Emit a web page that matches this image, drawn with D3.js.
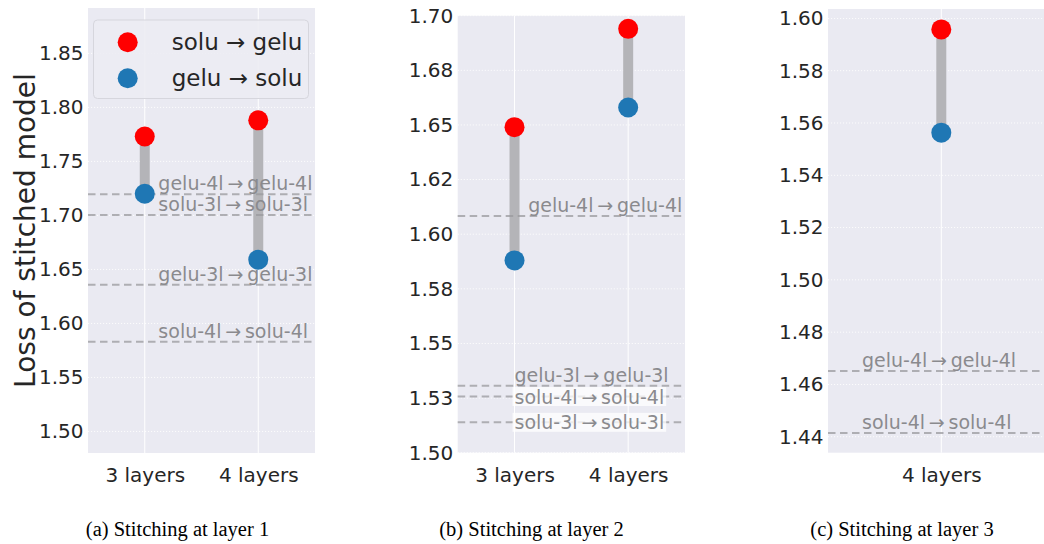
<!DOCTYPE html>
<html><head><meta charset="utf-8">
<script src="https://cdn.jsdelivr.net/npm/d3@7"></script>
<style>
html,body{margin:0;padding:0;background:#fff;}
svg{display:block;}
</style></head>
<body>
<svg id="chart" width="1044" height="544"></svg>
<script>
// ---------- data ----------
const seriesNames = ["solu \u2192 gelu", "gelu \u2192 solu"];

const catsA = ["3 layers", "4 layers"];
const soluToGeluA = [1.773, 1.788];
const geluToSoluA = [1.720, 1.659];
const baseNamesA = ["gelu-4l\u2009\u2192\u2009gelu-4l", "solu-3l\u2009\u2192\u2009solu-3l", "gelu-3l\u2009\u2192\u2009gelu-3l", "solu-4l\u2009\u2192\u2009solu-4l"];
const baseValsA = [1.7196, 1.7004, 1.6357, 1.583];
const tickValsA = [1.50, 1.55, 1.60, 1.65, 1.70, 1.75, 1.80, 1.85];
const tickLabelsA = ["1.50", "1.55", "1.60", "1.65", "1.70", "1.75", "1.80", "1.85"];

const catsB = ["3 layers", "4 layers"];
const soluToGeluB = [1.649, 1.694];
const geluToSoluB = [1.588, 1.658];
const baseNamesB = ["gelu-4l\u2009\u2192\u2009gelu-4l", "gelu-3l\u2009\u2192\u2009gelu-3l", "solu-4l\u2009\u2192\u2009solu-4l", "solu-3l\u2009\u2192\u2009solu-3l"];
const baseValsB = [1.6083, 1.5306, 1.5257, 1.5139];
const tickValsB = [1.500, 1.525, 1.550, 1.575, 1.600, 1.625, 1.650, 1.675, 1.700];
const tickLabelsB = ["1.50", "1.53", "1.55", "1.58", "1.60", "1.62", "1.65", "1.68", "1.70"];

const catsC = ["4 layers"];
const soluToGeluC = [1.5958];
const geluToSoluC = [1.5563];
const baseNamesC = ["gelu-4l\u2009\u2192\u2009gelu-4l", "solu-4l\u2009\u2192\u2009solu-4l"];
const baseValsC = [1.4651, 1.4414];
const tickValsC = [1.44, 1.46, 1.48, 1.50, 1.52, 1.54, 1.56, 1.58, 1.60];
const tickLabelsC = ["1.44", "1.46", "1.48", "1.50", "1.52", "1.54", "1.56", "1.58", "1.60"];

const captions = ["(a) Stitching at layer 1", "(b) Stitching at layer 2", "(c) Stitching at layer 3"];
const yLabel = "Loss of stitched model";

// ---------- layout / style ----------
const panels = [
  {cats: catsA, red: soluToGeluA, blue: geluToSoluA, bNames: baseNamesA, bVals: baseValsA,
   ticks: tickValsA, tickLabels: tickLabelsA, caption: captions[0],
   x0: 88, x1: 315, y0: 8, y1: 453, dom: [1.48, 1.892],
   labelX: [0.12, 0.12, 0.12, 0.12], labelMode: ["above","above","above","above"], capX: 177.5, legend: true},
  {cats: catsB, red: soluToGeluB, blue: geluToSoluB, bNames: baseNamesB, bVals: baseValsB,
   ticks: tickValsB, tickLabels: tickLabelsB, caption: captions[1],
   x0: 457.7, x1: 685, y0: 15.7, y1: 452.7, dom: [1.5, 1.7],
   labelX: [0.12, 0.0, 0.0, 0.0], labelMode: ["above","above","box","box"], capX: 531.5},
  {cats: catsC, red: soluToGeluC, blue: geluToSoluC, bNames: baseNamesC, bVals: baseValsC,
   ticks: tickValsC, tickLabels: tickLabelsC, caption: captions[2],
   x0: 828, x1: 1054.6, y0: 9, y1: 452.7, dom: [1.4339, 1.6036],
   labelX: [-0.35, -0.35], labelMode: ["above","above"], capX: 902}
];

const BG = "#eaeaf2", RED = "#ff0000", BLUE = "#1f77b4";
const svg = d3.select("#chart");
const sans = "'DejaVu Sans', sans-serif";

panels.forEach((p, pi) => {
  const n = p.cats.length;
  const x = d3.scaleLinear().domain([-0.5, n - 0.5]).range([p.x0, p.x1]);
  const y = d3.scaleLinear().domain(p.dom).range([p.y1, p.y0]);
  const g = svg.append("g");

  g.append("rect").attr("x", p.x0).attr("y", p.y0)
    .attr("width", p.x1 - p.x0).attr("height", p.y1 - p.y0).attr("fill", BG);

  // horizontal grid (faint dotted)
  g.selectAll(".hg").data(p.ticks).join("line")
    .attr("x1", p.x0).attr("x2", p.x1)
    .attr("y1", d => y(d)).attr("y2", d => y(d))
    .attr("stroke", "#ffffff").attr("stroke-width", 1)
    .attr("stroke-dasharray", "1.2,1.8").attr("opacity", 0.9);
  // vertical grid
  g.selectAll(".vg").data(p.cats).join("line")
    .attr("x1", (d, i) => x(i)).attr("x2", (d, i) => x(i))
    .attr("y1", p.y0).attr("y2", p.y1)
    .attr("stroke", "#ffffff").attr("stroke-width", 1);

  // y axis tick labels
  const yAxis = d3.axisLeft(y).tickValues(p.ticks)
    .tickFormat((d, i) => p.tickLabels[i]).tickSize(0).tickPadding(4.5);
  const ya = g.append("g").attr("transform", `translate(${p.x0},0)`).call(yAxis);
  ya.select(".domain").remove();
  ya.selectAll("text").attr("font-family", sans).attr("font-size", 20)
    .attr("fill", "#262626");

  // x axis tick labels
  const xAxis = d3.axisBottom(x).tickValues(d3.range(n))
    .tickFormat(i => p.cats[i]).tickSize(0).tickPadding(15);
  const xa = g.append("g").attr("transform", `translate(0,${p.y1})`).call(xAxis);
  xa.select(".domain").remove();
  xa.selectAll("text").attr("font-family", sans).attr("font-size", 20)
    .attr("fill", "#262626");

  // connecting bars
  g.selectAll(".bar").data(p.cats).join("line")
    .attr("x1", (d, i) => x(i)).attr("x2", (d, i) => x(i))
    .attr("y1", (d, i) => y(p.red[i])).attr("y2", (d, i) => y(p.blue[i]))
    .attr("stroke", "#b4b4b8").attr("stroke-width", 10);

  // baselines
  g.selectAll(".bl").data(p.bVals).join("line")
    .attr("x1", p.x0).attr("x2", p.x1)
    .attr("y1", d => y(d)).attr("y2", d => y(d))
    .attr("stroke", "#9a9a9e").attr("stroke-opacity", 0.75)
    .attr("stroke-width", 2).attr("stroke-dasharray", "7.5,4.5");

  // baseline labels
  p.bNames.forEach((name, i) => {
    const lx = x(p.labelX[i]);
    const ly = y(p.bVals[i]);
    if (p.labelMode[i] === "box") {
      const t = g.append("text").attr("x", lx).attr("y", ly)
        .attr("dominant-baseline", "central")
        .attr("font-family", sans).attr("font-size", 19)
        .attr("fill", "#8a8a8e").text(name);
      const bb = t.node().getBBox();
      g.insert("rect", () => t.node())
        .attr("x", bb.x - 2).attr("y", ly - 9.5)
        .attr("width", bb.width + 4).attr("height", 19)
        .attr("fill", "#ffffff").attr("fill-opacity", 0.75);
    } else {
      g.append("text").attr("x", lx).attr("y", ly - 4)
        .attr("font-family", sans).attr("font-size", 19)
        .attr("fill", "#8a8a8e").text(name);
    }
  });

  // markers
  g.selectAll(".mr").data(p.red).join("circle")
    .attr("cx", (d, i) => x(i)).attr("cy", d => y(d)).attr("r", 10).attr("fill", RED);
  g.selectAll(".mb").data(p.blue).join("circle")
    .attr("cx", (d, i) => x(i)).attr("cy", d => y(d)).attr("r", 10).attr("fill", BLUE);

  // caption
  svg.append("text").attr("x", p.capX).attr("y", 536)
    .attr("text-anchor", "middle")
    .attr("font-family", "'Liberation Serif', 'Times New Roman', serif")
    .attr("font-size", 20.5).attr("fill", "#000").text(p.caption);

  if (p.legend) {
    const lg = g.append("g");
    lg.append("rect").attr("x", 93.5).attr("y", 20).attr("width", 215).attr("height", 78.5)
      .attr("rx", 4).attr("fill", "#ececf3").attr("fill-opacity", 0.9)
      .attr("stroke", "#d6d6dd").attr("stroke-width", 1);
    const colors = [RED, BLUE];
    seriesNames.forEach((s, i) => {
      const cy = 42.3 + i * 36;
      lg.append("circle").attr("cx", 127.7).attr("cy", cy).attr("r", 10).attr("fill", colors[i]);
      lg.append("text").attr("x", 171.7).attr("y", cy).attr("dominant-baseline", "central")
        .attr("font-family", sans).attr("font-size", 23).attr("fill", "#262626").text(s);
    });
  }
});

// y label
svg.append("text")
  .attr("transform", "translate(35,230.5) rotate(-90)")
  .attr("text-anchor", "middle")
  .attr("font-family", sans).attr("font-size", 28).attr("fill", "#262626")
  .text(yLabel);
</script>
</body></html>
